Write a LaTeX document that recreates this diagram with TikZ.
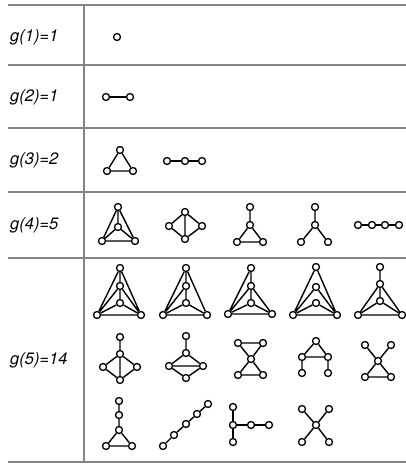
\documentclass[tikz,border=0pt]{standalone}
\usepackage{fontspec}
\setmainfont{TeX Gyre Heros}
\usepackage{tikz}
\usetikzlibrary{positioning}

\begin{document}
\begin{tikzpicture}[x=1pt, y=-1pt,
    vtx/.style={circle, draw, line width=1.3pt, inner sep=0pt, minimum size=7pt},
    edge/.style={line width=1.4pt},
    rule/.style={draw=black!48, line width=1.3pt},
    rowlabel/.style={anchor=west, inner sep=0pt, font=\fontsize{16.5}{19}\selectfont\itshape},
]
    \useasboundingbox (0,0) rectangle (406,465);

    % table rules
    \draw[rule] (8,5) -- (406,5);
    \draw[rule] (8,65) -- (406,65);
    \draw[rule] (8,128) -- (406,128);
    \draw[rule] (8,192) -- (406,192);
    \draw[rule] (8,258) -- (406,258);
    \draw[rule] (8,462) -- (406,462);
    \draw[rule] (84,5) -- (84,462);

    % row labels
    \node[rowlabel] (lab1) at (10,37) {g(1)=1};
    \node[rowlabel] (lab2) at (10,97) {g(2)=1};
    \node[rowlabel] (lab3) at (10,160) {g(3)=2};
    \node[rowlabel] (lab4) at (10,225) {g(4)=5};
    \node[rowlabel] (lab5) at (10,360) {g(5)=14};

    % n = 1, 2
    \node[vtx] (a1) at (117,37) {};
    \node[vtx] (b1) at (106,97) {};
    \node[vtx] (b2) at (130,97) {};
    \draw[edge] (b1) -- (b2);

    % n = 3
    \node[vtx] (tri1) at (120,150) {};
    \node[vtx] (tri2) at (107,171) {};
    \node[vtx] (tri3) at (133,171) {};
    \draw[edge] (tri1) -- (tri2) -- (tri3) -- (tri1);
    \node[vtx] (pth1) at (167,161) {};
    \node[vtx] (pth2) at (185,161) {};
    \node[vtx] (pth3) at (202,161) {};
    \draw[edge] (pth1) -- (pth2) -- (pth3);

    % n = 4
    \node[vtx] (kf-t) at (118,207) {};
    \node[vtx] (kf-c) at (118,227) {};
    \node[vtx] (kf-l) at (102,241) {};
    \node[vtx] (kf-r) at (135,241) {};
    \draw[edge] (kf-t) -- (kf-l) -- (kf-r) -- (kf-t) -- (kf-c) (kf-c) -- (kf-l) (kf-c) -- (kf-r);

    \node[vtx] (dm-t) at (185,212) {};
    \node[vtx] (dm-l) at (169,226) {};
    \node[vtx] (dm-r) at (202,226) {};
    \node[vtx] (dm-b) at (185,239) {};
    \draw[edge] (dm-t) -- (dm-l) -- (dm-b) -- (dm-r) -- (dm-t) -- (dm-b);

    \node[vtx] (pw-t) at (250,207) {};
    \node[vtx] (pw-c) at (250,225) {};
    \node[vtx] (pw-l) at (237,242) {};
    \node[vtx] (pw-r) at (263,242) {};
    \draw[edge] (pw-t) -- (pw-c) -- (pw-l) -- (pw-r) -- (pw-c);

    \node[vtx] (cl-t) at (315,207) {};
    \node[vtx] (cl-c) at (315,225) {};
    \node[vtx] (cl-l) at (301,242) {};
    \node[vtx] (cl-r) at (328,242) {};
    \draw[edge] (cl-t) -- (cl-c) -- (cl-l) (cl-c) -- (cl-r);

    \node[vtx] (pf1) at (358,225) {};
    \node[vtx] (pf2) at (372,225) {};
    \node[vtx] (pf3) at (385,225) {};
    \node[vtx] (pf4) at (399,225) {};
    \draw[edge] (pf1) -- (pf2) -- (pf3) -- (pf4);

    % n = 5, first line
    \node[vtx] (ua-t) at (120,268) {};
    \node[vtx] (ua-m) at (120,286) {};
    \node[vtx] (ua-n) at (120,303) {};
    \node[vtx] (ua-l) at (97,315) {};
    \node[vtx] (ua-r) at (141,315) {};
    \draw[edge] (ua-t) -- (ua-l) -- (ua-r) -- (ua-t) -- (ua-m) -- (ua-n)
        (ua-m) -- (ua-l) (ua-m) -- (ua-r) (ua-n) -- (ua-l) (ua-n) -- (ua-r);

    \node[vtx] (ub-t) at (186,268) {};
    \node[vtx] (ub-m) at (186,286) {};
    \node[vtx] (ub-n) at (186,303) {};
    \node[vtx] (ub-l) at (163,315) {};
    \node[vtx] (ub-r) at (207,315) {};
    \draw[edge] (ub-t) -- (ub-l) -- (ub-r) -- (ub-t) -- (ub-m) -- (ub-n)
        (ub-m) -- (ub-l) (ub-n) -- (ub-l) (ub-n) -- (ub-r);

    \node[vtx] (uc-t) at (251,268) {};
    \node[vtx] (uc-m) at (251,286) {};
    \node[vtx] (uc-n) at (251,303) {};
    \node[vtx] (uc-l) at (228,314) {};
    \node[vtx] (uc-r) at (272,314) {};
    \draw[edge] (uc-t) -- (uc-l) -- (uc-r) -- (uc-m) -- (uc-t) (uc-m) -- (uc-n)
        (uc-m) -- (uc-l) (uc-n) -- (uc-l) (uc-n) -- (uc-r);

    \node[vtx] (ud-t) at (316,267) {};
    \node[vtx] (ud-m) at (316,287) {};
    \node[vtx] (ud-n) at (316,303) {};
    \node[vtx] (ud-l) at (293,315) {};
    \node[vtx] (ud-r) at (337,315) {};
    \draw[edge] (ud-t) -- (ud-l) -- (ud-r) -- (ud-t)
        (ud-m) -- (ud-l) (ud-m) -- (ud-r) (ud-n) -- (ud-l) (ud-n) -- (ud-r);

    \node[vtx] (ue-t) at (380,267) {};
    \node[vtx] (ue-m) at (380,284) {};
    \node[vtx] (ue-n) at (380,301) {};
    \node[vtx] (ue-l) at (358,315) {};
    \node[vtx] (ue-r) at (402,315) {};
    \draw[edge] (ue-t) -- (ue-m) -- (ue-n) (ue-m) -- (ue-l) -- (ue-r) -- (ue-m)
        (ue-n) -- (ue-l) (ue-n) -- (ue-r);

    % n = 5, second line
    \node[vtx] (va-t) at (120,337) {};
    \node[vtx] (va-c) at (120,354) {};
    \node[vtx] (va-l) at (103,367) {};
    \node[vtx] (va-r) at (137,367) {};
    \node[vtx] (va-b) at (120,380) {};
    \draw[edge] (va-t) -- (va-c) -- (va-b) -- (va-l) -- (va-c) -- (va-r) -- (va-b);

    \node[vtx] (vb-t) at (186,336) {};
    \node[vtx] (vb-c) at (186,353) {};
    \node[vtx] (vb-l) at (169,366) {};
    \node[vtx] (vb-r) at (203,366) {};
    \node[vtx] (vb-b) at (186,378) {};
    \draw[edge] (vb-t) -- (vb-c) -- (vb-l) -- (vb-b) -- (vb-r) -- (vb-c) (vb-l) -- (vb-r);

    \node[vtx] (vc-tl) at (238,343) {};
    \node[vtx] (vc-tr) at (263,343) {};
    \node[vtx] (vc-c) at (251,359) {};
    \node[vtx] (vc-bl) at (238,375) {};
    \node[vtx] (vc-br) at (263,375) {};
    \draw[edge] (vc-tl) -- (vc-tr) -- (vc-c) -- (vc-tl) (vc-c) -- (vc-bl) -- (vc-br) -- (vc-c);

    \node[vtx] (vd-t) at (316,341) {};
    \node[vtx] (vd-ml) at (302,357) {};
    \node[vtx] (vd-mr) at (328,357) {};
    \node[vtx] (vd-bl) at (302,373) {};
    \node[vtx] (vd-br) at (328,373) {};
    \draw[edge] (vd-bl) -- (vd-ml) -- (vd-t) -- (vd-mr) -- (vd-br) (vd-ml) -- (vd-mr);

    \node[vtx] (ve-tl) at (365,345) {};
    \node[vtx] (ve-tr) at (391,345) {};
    \node[vtx] (ve-c) at (378,361) {};
    \node[vtx] (ve-bl) at (365,377) {};
    \node[vtx] (ve-br) at (391,377) {};
    \draw[edge] (ve-tl) -- (ve-c) -- (ve-tr) (ve-c) -- (ve-bl) -- (ve-br) -- (ve-c);

    % n = 5, third line
    \node[vtx] (wa-1) at (119,401) {};
    \node[vtx] (wa-2) at (119,415) {};
    \node[vtx] (wa-3) at (119,430) {};
    \node[vtx] (wa-l) at (106,446) {};
    \node[vtx] (wa-r) at (132,446) {};
    \draw[edge] (wa-1) -- (wa-2) -- (wa-3) -- (wa-l) -- (wa-r) -- (wa-3);

    \node[vtx] (wb-1) at (163,446) {};
    \node[vtx] (wb-2) at (174,435) {};
    \node[vtx] (wb-3) at (186,424) {};
    \node[vtx] (wb-4) at (197,414) {};
    \node[vtx] (wb-5) at (208,404) {};
    \draw[edge] (wb-1) -- (wb-2) -- (wb-3) -- (wb-4) -- (wb-5);

    \node[vtx] (wc-t) at (233,407) {};
    \node[vtx] (wc-c) at (233,425) {};
    \node[vtx] (wc-b) at (233,442) {};
    \node[vtx] (wc-r1) at (251,425) {};
    \node[vtx] (wc-r2) at (269,425) {};
    \draw[edge] (wc-t) -- (wc-c) -- (wc-b) (wc-c) -- (wc-r1) -- (wc-r2);

    \node[vtx] (wd-c) at (316,425) {};
    \node[vtx] (wd-tl) at (302,409) {};
    \node[vtx] (wd-tr) at (329,409) {};
    \node[vtx] (wd-bl) at (302,442) {};
    \node[vtx] (wd-br) at (329,442) {};
    \draw[edge] (wd-tl) -- (wd-c) -- (wd-br) (wd-tr) -- (wd-c) -- (wd-bl);
\end{tikzpicture}
\end{document}
